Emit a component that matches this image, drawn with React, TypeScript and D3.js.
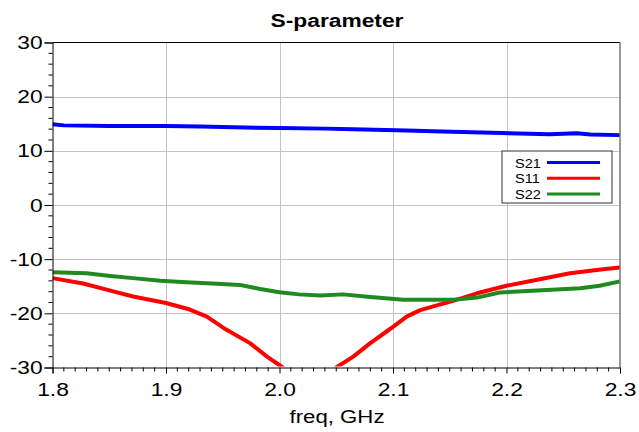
import React, { Component } from 'react'
import * as d3 from 'd3'

// values (freq in GHz, dB)
const freqS21 = [1.8, 1.81, 1.85, 1.9, 1.93, 1.97, 2.0, 2.04, 2.065, 2.112, 2.143, 2.196, 2.238, 2.262, 2.274, 2.3]
const valS21 = [14.9, 14.7, 14.6, 14.6, 14.5, 14.3, 14.2, 14.1, 14.0, 13.75, 13.55, 13.3, 13.05, 13.25, 13.0, 12.9]

const freqS11 = [1.8, 1.827, 1.851, 1.871, 1.9, 1.921, 1.936, 1.953, 1.974, 1.989, 2.003, 2.015, 2.028, 2.04, 2.05, 2.065, 2.08, 2.094, 2.1, 2.112, 2.124, 2.141, 2.153, 2.174, 2.2, 2.227, 2.256, 2.285, 2.3]
const valS11 = [-13.5, -14.5, -15.8, -16.9, -18.1, -19.3, -20.6, -23.0, -25.5, -28.0, -30.0, -33.5, -36.0, -33.5, -30.0, -28.0, -25.5, -23.4, -22.5, -20.6, -19.4, -18.4, -17.7, -16.3, -14.9, -13.8, -12.6, -11.85, -11.55]

const freqS22 = [1.8, 1.83, 1.851, 1.871, 1.895, 1.918, 1.945, 1.965, 1.983, 2.0, 2.017, 2.036, 2.056, 2.08, 2.109, 2.153, 2.174, 2.194, 2.227, 2.265, 2.282, 2.3]
const valS22 = [-12.4, -12.6, -13.1, -13.5, -14.0, -14.25, -14.55, -14.75, -15.5, -16.1, -16.5, -16.7, -16.5, -17.0, -17.5, -17.5, -17.1, -16.15, -15.8, -15.35, -14.9, -14.1]

const xTicks = [1.8, 1.9, 2.0, 2.1, 2.2, 2.3]
const yTicks = [-30, -20, -10, 0, 10, 20, 30]

const seriesNames = ['S21', 'S11', 'S22']
const seriesColors = ['#0000ff', '#ff0000', '#1f8a1f']

function zip(xs, ys) {
  return xs.map((x, i) => [x, ys[i]])
}

export default class App extends Component {
  constructor(props) {
    super(props)
    this.node = React.createRef()
  }

  componentDidMount() {
    document.body.style.margin = '0'
    this.draw()
  }

  draw() {
    var W = 639, H = 432
    var left = 52.5, top = 42.5, right = 620, bottom = 367.5
    var font = 'Arial, "Liberation Sans", sans-serif'
    var stretch = 1.2 // the original text is drawn a bit wide

    var svg = d3.select(this.node.current)
      .attr('width', W)
      .attr('height', H)
      .style('display', 'block')
    svg.selectAll('*').remove()

    var x = d3.scaleLinear().domain([1.8, 2.3]).range([left, right])
    var y = d3.scaleLinear().domain([-30, 30]).range([bottom, top])

    svg.append('rect').attr('width', W).attr('height', H).attr('fill', '#fff')

    // grid
    svg.append('g').selectAll('line')
      .data(xTicks.slice(1, -1)).enter().append('line')
        .attr('x1', d => Math.round(x(d)) + 0.5).attr('x2', d => Math.round(x(d)) + 0.5)
        .attr('y1', top).attr('y2', bottom)
        .attr('stroke', '#c4c4c4').attr('stroke-width', 1)
    svg.append('g').selectAll('line')
      .data(yTicks.slice(1, -1)).enter().append('line')
        .attr('x1', left).attr('x2', right)
        .attr('y1', d => Math.round(y(d)) + 0.5).attr('y2', d => Math.round(y(d)) + 0.5)
        .attr('stroke', '#c4c4c4').attr('stroke-width', 1)

    // clipped curves
    svg.append('clipPath').attr('id', 'plotclip')
      .append('rect').attr('x', left).attr('y', top - 3).attr('width', right - left + 3).attr('height', bottom - top + 2)

    var line = d3.line().x(d => x(d[0])).y(d => y(d[1]))
    var data = [zip(freqS21, valS21), zip(freqS11, valS11), zip(freqS22, valS22)]
    var curves = svg.append('g').attr('clip-path', 'url(#plotclip)')
    data.forEach((d, i) => {
      curves.append('path')
        .attr('d', line(d))
        .attr('fill', 'none')
        .attr('stroke', seriesColors[i])
        .attr('stroke-width', 4)
        .attr('stroke-linejoin', 'round')
    })

    // frame
    svg.append('line').attr('x1', left).attr('x2', right).attr('y1', top).attr('y2', top).attr('stroke', '#000')
    svg.append('line').attr('x1', right).attr('x2', right).attr('y1', top).attr('y2', bottom).attr('stroke', '#777').attr('stroke-width', 1.5)

    // y axis (plain hyphen for negatives, like the original)
    var yAxis = d3.axisLeft(y).tickValues(yTicks).tickSize(8).tickPadding(0.2).tickFormat(d => String(d))
    var gy = svg.append('g').attr('transform', 'translate(' + left + ',0)').call(yAxis)
    gy.select('.domain').attr('stroke', '#000')
    gy.selectAll('text')
      .attr('font-family', font).attr('font-size', 19).attr('fill', '#000')
      .attr('transform', 'scale(' + stretch + ',1)')
    var yMinor = d3.range(-30, 31, 2).filter(v => v % 10 !== 0)
    svg.append('g').selectAll('line').data(yMinor).enter().append('line')
      .attr('x1', left - 4).attr('x2', left)
      .attr('y1', d => y(d)).attr('y2', d => y(d))
      .attr('stroke', '#000')

    // x axis
    var xAxis = d3.axisBottom(x).tickValues(xTicks).tickSize(6).tickPadding(9).tickFormat(d3.format('.1f'))
    var gx = svg.append('g').attr('transform', 'translate(0,' + bottom + ')').call(xAxis)
    gx.select('.domain').attr('stroke', '#000')
    gx.selectAll('text')
      .attr('font-family', font).attr('font-size', 19).attr('fill', '#000')
      .attr('transform', 'scale(' + stretch + ',1)')
    var xMinor = d3.range(180, 231, 1).filter(v => v % 10 !== 0).map(v => v / 100)
    svg.append('g').selectAll('line').data(xMinor).enter().append('line')
      .attr('x1', d => x(d)).attr('x2', d => x(d))
      .attr('y1', bottom).attr('y2', bottom + 4)
      .attr('stroke', '#000')

    // titles
    svg.append('text')
      .attr('transform', 'translate(337,26.5) scale(' + stretch + ',1)')
      .attr('text-anchor', 'middle')
      .attr('font-family', font).attr('font-weight', 'bold').attr('font-size', 19)
      .text('S-parameter')
    svg.append('text')
      .attr('transform', 'translate(337,422.5) scale(' + stretch + ',1)')
      .attr('text-anchor', 'middle')
      .attr('font-family', font).attr('font-size', 18.5)
      .text('freq, GHz')

    // legend
    var lg = svg.append('g')
    lg.append('rect')
      .attr('x', 502).attr('y', 151).attr('width', 110).attr('height', 52)
      .attr('fill', '#fff').attr('stroke', '#333').attr('stroke-width', 1)
    seriesNames.forEach((name, i) => {
      var ly = 162.5 + i * 15.7
      lg.append('text')
        .attr('transform', 'translate(515,' + (ly + 5) + ') scale(1.12,1)')
        .attr('font-family', font).attr('font-size', 13)
        .text(name)
      lg.append('line')
        .attr('x1', 547).attr('x2', 600).attr('y1', ly).attr('y2', ly)
        .attr('stroke', seriesColors[i]).attr('stroke-width', 3)
    })
  }

  render() {
    return <svg ref={this.node}></svg>
  }
}
